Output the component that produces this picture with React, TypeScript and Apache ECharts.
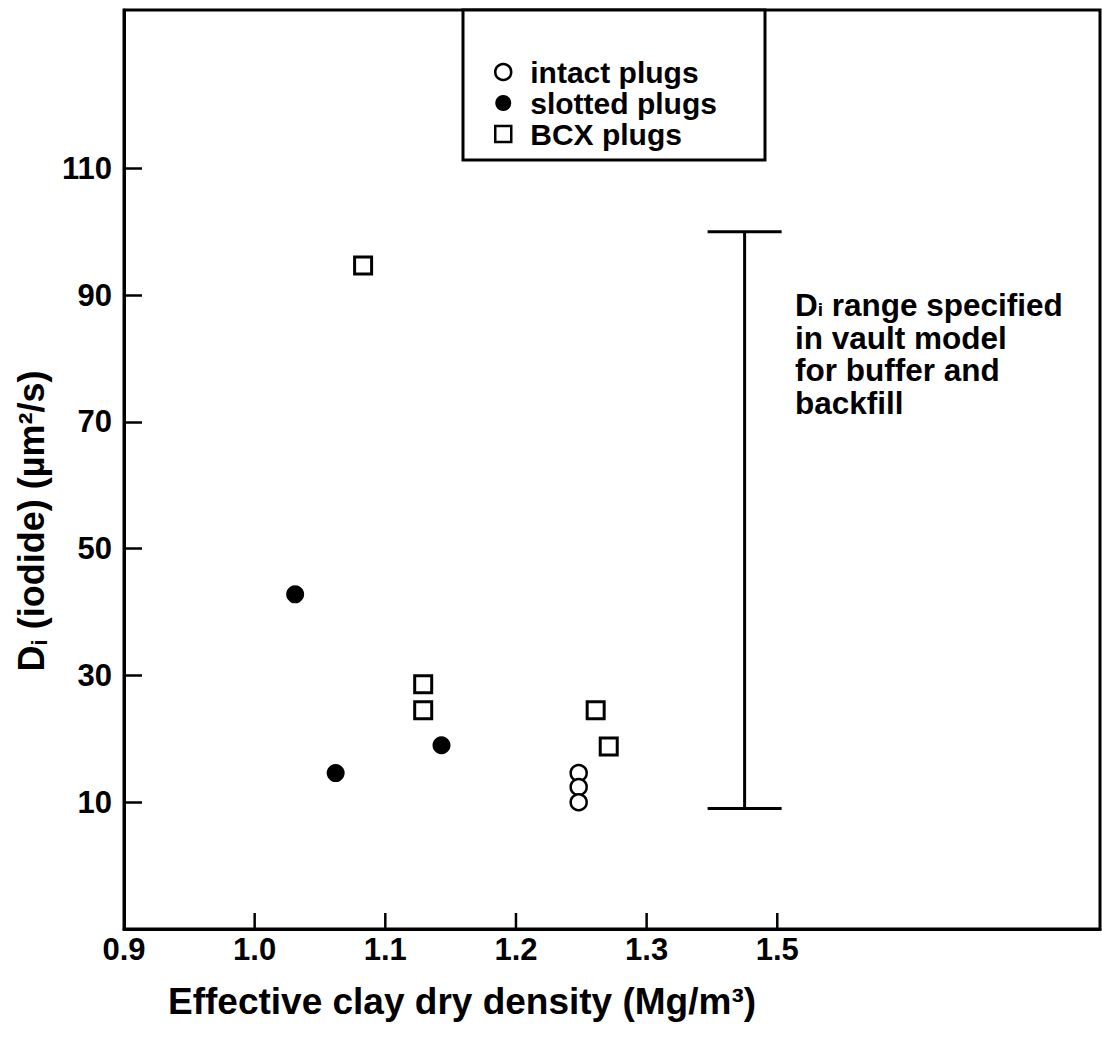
import React, { useEffect, useRef } from "react";
import * as echarts from "echarts";

// ---- data ----
const intactPlugs: [number, number][] = [
  [1.248, 14.6],
  [1.248, 12.4],
  [1.248, 10.0],
];
const slottedPlugs: [number, number][] = [
  [1.031, 42.8],
  [1.062, 14.6],
  [1.143, 19.0],
];
const bcxPlugs: [number, number][] = [
  [1.083, 94.7],
  [1.129, 28.6],
  [1.129, 24.5],
  [1.261, 24.5],
  [1.271, 18.8],
];
// D_i range specified in vault model: [x, low, high]
const vaultRange: [number, number, number][] = [[1.375, 9, 100]];

const xTickValues = [0.9, 1.0, 1.1, 1.2, 1.3, 1.4];
const xTickLabels = ["0.9", "1.0", "1.1", "1.2", "1.3", "1.5"];
const yTickValues = [10, 30, 50, 70, 90, 110];
const yTickLabels = ["10", "30", "50", "70", "90", "110"];

const X_MIN = 0.9;
const X_MAX = 1.647;
const Y_MIN = -10;
const Y_MAX = 135;

const seriesNames = ["intact plugs", "slotted plugs", "BCX plugs"];

const FONT = "'Liberation Sans', Arial, Helvetica, sans-serif";

export default function App() {
  const ref = useRef<HTMLDivElement>(null);

  useEffect(() => {
    document.body.style.margin = "0";
    if (!ref.current) return;
    const chart = echarts.init(ref.current, null, { renderer: "svg" });

    const option: any = {
      animation: false,
      backgroundColor: "#fff",
      grid: {
        left: 124,
        top: 10,
        width: 976,
        height: 919,
        show: true,
        borderColor: "#000",
        borderWidth: 3,
        backgroundColor: "transparent",
      },
      xAxis: {
        type: "value",
        min: X_MIN,
        max: X_MAX,
        axisLine: { show: true, onZero: false, lineStyle: { color: "#000", width: 3 } },
        splitLine: { show: false },
        axisTick: { show: false },
        axisLabel: {
          show: true,
          customValues: xTickValues,
          margin: 5,
          color: "#000",
          fontFamily: FONT,
          fontWeight: "bold",
          fontSize: 31,
          formatter: (v: number) => {
            const i = xTickValues.findIndex((t) => Math.abs(t - v) < 1e-6);
            return i >= 0 ? xTickLabels[i] : "";
          },
        },
      },
      yAxis: {
        type: "value",
        min: Y_MIN,
        max: Y_MAX,
        axisLine: { show: true, onZero: false, lineStyle: { color: "#000", width: 3 } },
        splitLine: { show: false },
        axisTick: {
          show: true,
          inside: true,
          length: 18,
          customValues: yTickValues,
          lineStyle: { color: "#000", width: 2.5 },
        },
        axisLabel: {
          show: true,
          customValues: yTickValues,
          margin: 12,
          color: "#000",
          fontFamily: FONT,
          fontWeight: "bold",
          fontSize: 31,
          formatter: (v: number) => {
            const i = yTickValues.findIndex((t) => Math.abs(t - v) < 1e-6);
            return i >= 0 ? yTickLabels[i] : "";
          },
        },
      },
      legend: {
        orient: "vertical",
        left: 494,
        top: 57,
        padding: 0,
        itemGap: 1,
        itemWidth: 16,
        itemHeight: 16,
        z: 10,
        textStyle: {
          color: "#000",
          fontFamily: FONT,
          fontWeight: "bold",
          fontSize: 30,
          lineHeight: 30,
          padding: [0, 0, 0, 14],
        },
        data: [
          {
            name: seriesNames[0],
            icon: "circle",
            itemStyle: { color: "#fff", borderColor: "#000", borderWidth: 2.5 },
          },
          {
            name: seriesNames[1],
            icon: "circle",
            itemStyle: { color: "#000", borderColor: "#000", borderWidth: 0 },
          },
          {
            name: seriesNames[2],
            icon: "rect",
            itemStyle: { color: "#fff", borderColor: "#000", borderWidth: 2.5 },
          },
        ],
      },
      graphic: [
        {
          type: "rect",
          z: 1,
          shape: { x: 463, y: 10, width: 302, height: 150 },
          style: { fill: "#fff", stroke: "#000", lineWidth: 3 },
        },
        {
          type: "text",
          z: 5,
          x: 795,
          y: 289,
          style: {
            text:
              "{m|D}{s|i}{m| range specified}\n{m|in vault model}\n{m|for buffer and}\n{m|backfill}",
            fill: "#000",
            fontFamily: FONT,
            fontWeight: "bold",
            fontSize: 31,
            rich: {
              m: { fontFamily: FONT, fontWeight: "bold", fontSize: 31.5, lineHeight: 32.5, fill: "#000" },
              s: {
                fontFamily: FONT,
                fontWeight: "bold",
                fontSize: 19,
                lineHeight: 19,
                padding: [8, 0, 0, 0],
                verticalAlign: "middle",
                fill: "#000",
              },
            },
          },
        },
        {
          type: "text",
          z: 5,
          x: 462,
          y: 1001,
          style: {
            text: "Effective clay dry density (Mg/m³)",
            fill: "#000",
            fontFamily: FONT,
            fontWeight: "bold",
            fontSize: 37,
            align: "center",
            verticalAlign: "middle",
          },
        },
        {
          type: "text",
          z: 5,
          x: 31,
          y: 521,
          rotation: Math.PI / 2,
          style: {
            text: "{m|D}{s|i}{m| (iodide) (µm²/s)}",
            fill: "#000",
            align: "center",
            verticalAlign: "middle",
            fontFamily: FONT,
            fontWeight: "bold",
            fontSize: 36,
            rich: {
              m: { fontFamily: FONT, fontWeight: "bold", fontSize: 36, lineHeight: 38, fill: "#000" },
              s: { fontFamily: FONT, fontWeight: "bold", fontSize: 22, lineHeight: 24, verticalAlign: "bottom", fill: "#000" },
            },
          },
        },
      ],
      series: [
        {
          name: seriesNames[0],
          type: "scatter",
          symbol: "circle",
          symbolSize: 16,
          data: intactPlugs,
          itemStyle: { color: "#fff", borderColor: "#000", borderWidth: 2.5, opacity: 1 },
        },
        {
          name: seriesNames[1],
          type: "scatter",
          symbol: "circle",
          symbolSize: 18,
          data: slottedPlugs,
          itemStyle: { color: "#000", opacity: 1 },
        },
        {
          name: seriesNames[2],
          type: "scatter",
          symbol: "rect",
          symbolSize: 17,
          data: bcxPlugs,
          itemStyle: { color: "#fff", borderColor: "#000", borderWidth: 3, opacity: 1 },
        },
        {
          name: "vault model range",
          type: "custom",
          data: vaultRange,
          encode: { x: 0, y: [1, 2] },
          renderItem: (params: any, api: any) => {
            const x = api.value(0);
            const lo = api.value(1);
            const hi = api.value(2);
            const pTop = api.coord([x, hi]);
            const pBot = api.coord([x, lo]);
            const hw = 37;
            const st = { stroke: "#000", lineWidth: 3 };
            return {
              type: "group",
              children: [
                { type: "line", shape: { x1: pTop[0], y1: pTop[1], x2: pBot[0], y2: pBot[1] }, style: st },
                { type: "line", shape: { x1: pTop[0] - hw, y1: pTop[1], x2: pTop[0] + hw, y2: pTop[1] }, style: st },
                { type: "line", shape: { x1: pBot[0] - hw, y1: pBot[1], x2: pBot[0] + hw, y2: pBot[1] }, style: st },
              ],
            };
          },
        },
        {
          // inward tick marks of the x axis, placed through the axis scale
          name: "x ticks",
          type: "custom",
          silent: true,
          clip: false,
          data: xTickValues.slice(1).map((v) => [v, Y_MIN]),
          encode: { x: 0, y: 1 },
          renderItem: (params: any, api: any) => {
            const p = api.coord([api.value(0), api.value(1)]);
            return {
              type: "line",
              shape: { x1: p[0], y1: p[1], x2: p[0], y2: p[1] - 16 },
              style: { stroke: "#000", lineWidth: 2.5 },
            };
          },
        },
      ],
    };

    chart.setOption(option);
    return () => chart.dispose();
  }, []);

  return <div ref={ref} style={{ width: 1102, height: 1040 }} />;
}
